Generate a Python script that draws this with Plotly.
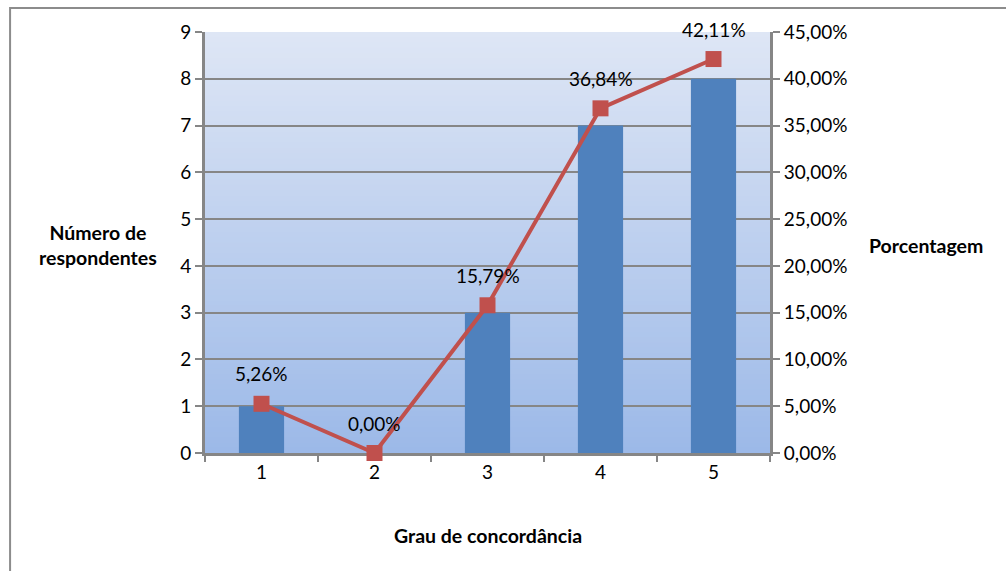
import plotly.graph_objects as go

# Survey results: agreement level vs. number of respondents and share
categories = ["1", "2", "3", "4", "5"]
respondents = [1, 0, 3, 7, 8]
percentages = [5.26, 0.00, 15.79, 36.84, 42.11]

left_ticks = list(range(0, 10))
right_ticks = list(range(0, 50, 5))

BAR_BLUE = "#4F81BD"
LINE_RED = "#C0504D"
GRID = "#868686"
FONT = "Lato"

fig = go.Figure()

fig.add_trace(go.Bar(
    x=categories, y=respondents,
    marker=dict(color=BAR_BLUE, line=dict(width=0)),
    width=0.4, yaxis="y", showlegend=False,
))

fig.add_trace(go.Scatter(
    x=categories, y=percentages, yaxis="y2",
    mode="lines+markers", cliponaxis=False,
    line=dict(color=LINE_RED, width=4),
    marker=dict(symbol="square", size=16, color=LINE_RED),
    showlegend=False,
))

# percentage labels above each point (category index positions)
for i, p in enumerate(percentages):
    fig.add_annotation(
        x=i, xref="x", y=p, yref="y2", text=f"{p:.2f}%".replace(".", ","),
        showarrow=False, yshift=30,
        font=dict(family=FONT, size=19, color="#000000"),
    )

# vertical gradient behind the plot area (overlapping layers avoid seams)
n_bands = 80
top = (0xDE, 0xE6, 0xF5)
bottom = (0x9C, 0xB9, 0xE8)
for i in range(n_bands):
    t = i / (n_bands - 1)
    col = tuple(round(top[k] + (bottom[k] - top[k]) * t) for k in range(3))
    fig.add_shape(
        type="rect", xref="x domain", yref="y domain",
        x0=0, x1=1, y0=0, y1=1 - i / n_bands,
        fillcolor="rgb(%d,%d,%d)" % col, line=dict(width=0), layer="below",
    )

# chart frame
fig.add_shape(
    type="rect", xref="paper", yref="paper",
    x0=-0.345, x1=1.43, y0=-0.32, y1=1.057,
    line=dict(color="#8C8C8C", width=2), fillcolor="rgba(0,0,0,0)", layer="below",
)

title_font = dict(family=FONT, size=19.5, color="#000000")
fig.add_annotation(
    xref="paper", yref="paper", x=(98 - 205) / 565, y=(453 - 245) / 421,
    xanchor="center", yanchor="middle",
    text="<b>Número de<br>respondentes</b>", showarrow=False,
    font=title_font, align="center",
)
fig.add_annotation(
    xref="paper", yref="paper", x=(926 - 205) / 565, y=(453 - 245) / 421,
    xanchor="center", yanchor="middle",
    text="<b>Porcentagem</b>", showarrow=False, font=title_font,
)
fig.add_annotation(
    xref="paper", yref="paper", x=0.5, y=(453 - 535) / 421,
    xanchor="center", yanchor="middle",
    text="<b>Grau de concordância</b>", showarrow=False, font=title_font,
)

tick_font = dict(family=FONT, size=19, color="#000000")
fig.update_layout(
    width=1006, height=571,
    margin=dict(l=205, r=236, t=32, b=118),
    paper_bgcolor="white", plot_bgcolor="rgba(0,0,0,0)",
    xaxis=dict(
        type="category", range=[-0.5, 4.5], tickson="boundaries",
        ticks="outside", ticklen=6, tickwidth=2, tickcolor=GRID,
        showline=True, linecolor=GRID, linewidth=3, layer="below traces",
        showgrid=False, tickfont=tick_font, fixedrange=True,
    ),
    yaxis=dict(
        range=[0, 9], tickvals=left_ticks, ticks="outside", ticklen=7,
        tickwidth=2, tickcolor=GRID, showline=True, linecolor=GRID, linewidth=3,
        showgrid=True, gridcolor=GRID, gridwidth=2, zeroline=False,
        tickfont=tick_font,
    ),
    yaxis2=dict(
        range=[0, 45], tickvals=right_ticks,
        ticktext=[f"{v:.2f}%".replace(".", ",") for v in right_ticks],
        overlaying="y", side="right", ticks="outside", ticklen=7,
        tickwidth=2, tickcolor=GRID, showline=True, linecolor=GRID, linewidth=3,
        showgrid=False, zeroline=False, tickfont=tick_font,
    ),
)

fig.write_html("out.html")
